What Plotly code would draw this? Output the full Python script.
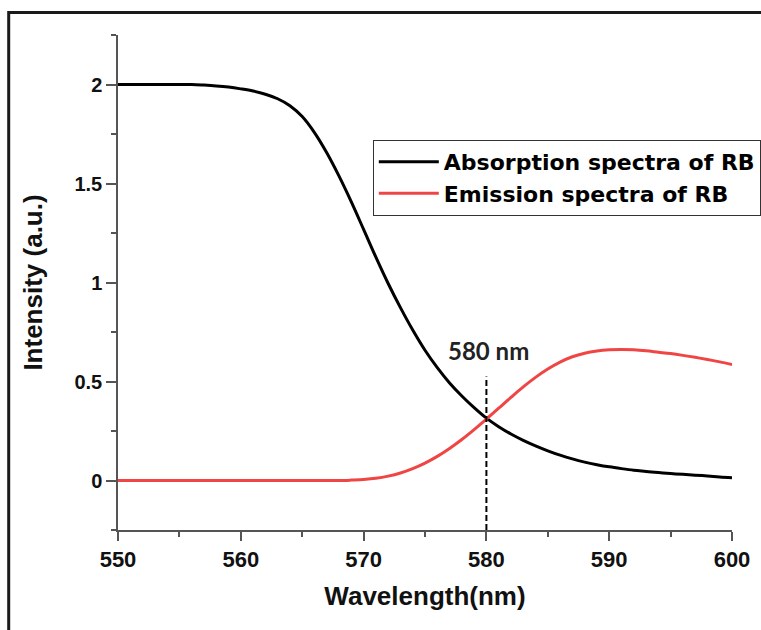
import plotly.graph_objects as go

wavelength = list(range(550, 601))

absorption = [
    2.0, 2.0, 2.0, 2.0, 2.0, 2.0, 2.0, 1.997, 1.993, 1.987,
    1.978, 1.967, 1.951, 1.928, 1.893, 1.838, 1.757, 1.655, 1.537, 1.407,
    1.268, 1.128, 0.995, 0.873, 0.76, 0.658, 0.57, 0.493, 0.427, 0.368,
    0.315, 0.272, 0.235, 0.203, 0.175, 0.150, 0.128, 0.109, 0.093, 0.080,
    0.069, 0.060, 0.052, 0.046, 0.040, 0.035, 0.031, 0.027, 0.023, 0.018,
    0.014,
]

emission = [
    0.0, 0.0, 0.0, 0.0, 0.0, 0.0, 0.0, 0.0, 0.0, 0.0,
    0.0, 0.0, 0.0, 0.0, 0.0, 0.0, 0.0, 0.0, 0.0, 0.002,
    0.005, 0.011, 0.022, 0.038, 0.06, 0.088, 0.122, 0.162, 0.207, 0.257,
    0.31, 0.365, 0.42, 0.473, 0.521, 0.563, 0.598, 0.625, 0.643, 0.654,
    0.660, 0.662, 0.660, 0.655, 0.648, 0.641, 0.632, 0.622, 0.611, 0.599,
    0.586,
]

series_names = ["Absorption spectra of RB", "Emission spectra of RB"]
x_ticks = [550, 560, 570, 580, 590, 600]
y_ticks = [0, 0.5, 1, 1.5, 2]
y_tick_labels = ["0", "0.5", "1", "1.5", "2"]
marker_wavelength = 580
marker_top = 0.525
marker_label = "580 nm"

FONT = "Liberation Sans, Arial, sans-serif"
AXIS_COLOR = "#555555"

fig = go.Figure()
fig.add_trace(go.Scatter(
    x=wavelength, y=absorption, mode="lines", name=series_names[0],
    line=dict(color="#000000", width=3, shape="spline", smoothing=1.0),
))
fig.add_trace(go.Scatter(
    x=wavelength, y=emission, mode="lines", name=series_names[1],
    line=dict(color="#F04545", width=3, shape="spline", smoothing=1.0),
))

y_min, y_max = -0.25, 2.25

fig.add_shape(
    type="line", xref="x", yref="y",
    x0=marker_wavelength, x1=marker_wavelength, y0=y_min, y1=marker_top,
    line=dict(color="#000000", width=2, dash="6px,3px"),
)

fig.add_annotation(
    x=marker_wavelength, y=marker_top, xref="x", yref="y",
    text=marker_label, showarrow=False, xanchor="center", yanchor="bottom",
    yshift=10, xshift=2,
    font=dict(family="Lato, sans-serif", size=24, color="#222222", weight=700),
)

# outer frame of the figure
fig.add_shape(
    type="rect", xref="paper", yref="paper",
    x0=-0.178, x1=1.2, y0=-0.25, y1=1.0455,
    line=dict(color="#1a1a1a", width=3), fillcolor="rgba(0,0,0,0)",
    layer="above",
)

fig.update_layout(
    width=761, height=630,
    margin=dict(l=118, r=29, t=35, b=100, autoexpand=False),
    paper_bgcolor="white", plot_bgcolor="white",
    font=dict(family=FONT, color="#111111"),
    showlegend=True,
    legend=dict(
        x=0.415, y=0.788, xanchor="left", yanchor="top",
        bgcolor="white", bordercolor="#333333", borderwidth=1,
        font=dict(family="DejaVu Sans, sans-serif", size=22, color="#000000", weight=700),
        itemwidth=60, tracegroupgap=0,
    ),
    xaxis=dict(
        range=[550, 600], tickvals=x_ticks, showgrid=False, zeroline=False,
        showline=True, linecolor=AXIS_COLOR, linewidth=1.5,
        ticks="outside", ticklen=9, tickwidth=1.5, tickcolor=AXIS_COLOR,
        tickfont=dict(family=FONT, size=22, color="#111111", weight=700),
        minor=dict(dtick=5, ticks="outside", ticklen=5, tickwidth=1.5, tickcolor=AXIS_COLOR),
        title=dict(text="Wavelength(nm)", standoff=16,
                   font=dict(family=FONT, size=26, color="#111111", weight=700)),
    ),
    yaxis=dict(
        range=[y_min, y_max], tickvals=y_ticks, ticktext=y_tick_labels,
        showgrid=False, zeroline=False,
        showline=True, linecolor=AXIS_COLOR, linewidth=1.5,
        ticks="outside", ticklen=10, tickwidth=1.5, tickcolor=AXIS_COLOR,
        tickfont=dict(family=FONT, size=20, color="#111111", weight=700),
        minor=dict(dtick=0.25, ticks="outside", ticklen=5, tickwidth=1.5, tickcolor=AXIS_COLOR),
        title=dict(text="Intensity (a.u.)", standoff=24,
                   font=dict(family=FONT, size=26, color="#111111", weight=700)),
    ),
)

fig.write_html("out.html")
